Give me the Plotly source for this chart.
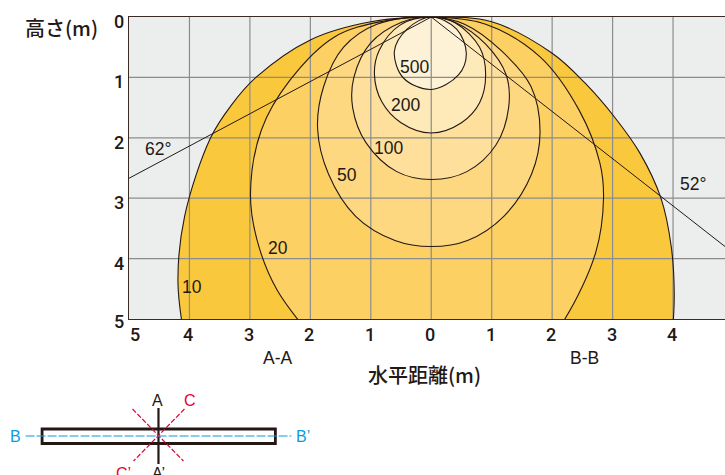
import plotly.graph_objects as go

X_TICKS = [-5, -4, -3, -2, -1, 0, 1, 2, 3, 4, 5]
X_LABELS = ["5", "4", "3", "2", "1", "0", "1", "2", "3", "4", "5"]
Y_TICKS = [0, 1, 2, 3, 4, 5]
LEVELS = ["10", "20", "50", "100", "200", "500"]

C10_X = [-4.05, -4.19, -4.08, -3.65, -3.3, -2.9, -2.0, -1.0, 0, 1, 2, 2.55, 3.05, 3.45, 3.8, 3.97, 4.02, 3.97]
C10_Y = [5.5, 4.4, 3.3, 2, 1.45, 1, 0.38, 0.08, 0, 0.08, 0.6, 1.1, 1.68, 2.25, 3, 3.8, 4.6, 5.5]
C20_X = [-1.8, -2.55, -2.88, -2.99, -2.81, -2.34, -1.6, -0.8, 0, 0.9, 1.8, 2.45, 2.79, 2.85, 2.72, 2.21, 1.8]
C20_Y = [5.5, 4.52, 3.7, 2.92, 1.87, 1.05, 0.33, 0.07, 0, 0.12, 0.66, 1.55, 2.42, 3.0, 3.9, 5, 5.5]
C50_X = [0, -0.9, -1.45, -1.78, -1.88, -1.7, -1.25, -0.6, 0, 0.6, 1.2, 1.66, 1.8, 1.65, 1.15, 0.55, 0]
C50_Y = [0, 0.12, 0.5, 1.15, 1.85, 2.6, 3.3, 3.7, 3.8, 3.7, 3.3, 2.6, 1.9, 1.15, 0.55, 0.12, 0]
C100_X = [0, -0.5, -1, -1.28, -1.3, -1.08, -0.57, 0, 0.59, 1.07, 1.28, 1.24, 0.9, 0.4, 0]
C100_Y = [0, 0.09, 0.43, 1.0, 1.5, 2.08, 2.56, 2.69, 2.56, 2.12, 1.5, 0.96, 0.45, 0.09, 0]
C200_X = [0, -0.51, -0.86, -0.94, -0.82, -0.5, 0, 0.5, 0.8, 0.9, 0.8, 0.4, 0]
C200_Y = [0, 0.13, 0.55, 0.95, 1.4, 1.75, 1.92, 1.75, 1.42, 0.95, 0.5, 0.1, 0]
C500_X = [0, -0.4, -0.61, -0.46, 0, 0.45, 0.58, 0.42, 0]
C500_Y = [0, 0.2, 0.57, 1.01, 1.2, 0.96, 0.6, 0.2, 0]
CONTOURS = [(C10_X, C10_Y), (C20_X, C20_Y), (C50_X, C50_Y), (C100_X, C100_Y), (C200_X, C200_Y), (C500_X, C500_Y)]
FILLS = ["#FAC83C", "#FDD063", "#FDD880", "#FEE09C", "#FEE9B8", "#FEF2D6"]

BEAM_X = [-5, 0, 5]
BEAM_Y = [2.67, 0, 3.91]

LEVEL_POS_X = [-3.95, -2.54, -1.39, -0.71, -0.43, -0.27]
LEVEL_POS_Y = [4.47, 3.83, 2.61, 2.17, 1.45, 0.83]

INK = "#231815"
W, H = 725, 475
L, T, B = 128.5, 17, 319
X_MAX = (W - 431) / 60.5
CN = "Noto Sans CJK JP"
TXT = "Liberation Sans"
TICKF = dict(family="Roboto", size=18, color=INK, weight=500)


def px(x):
    return (x - L) / (W - L)


def py(y):
    return (B - y) / (B - T)


fig = go.Figure()
for (cx, cy), col in zip(CONTOURS, FILLS):
    fig.add_trace(go.Scatter(x=cx, y=cy, mode="lines", fill="toself", fillcolor=col,
                             line=dict(width=0, shape="spline", smoothing=1.0, color=col, simplify=False),
                             hoverinfo="skip", showlegend=False))

gx, gy = [], []
for v in X_TICKS[1:-1]:
    gx += [v, v, None]
    gy += [0, 5, None]
for v in Y_TICKS[1:-1]:
    gx += [-5, 5, None]
    gy += [v, v, None]
fig.add_trace(go.Scatter(x=gx, y=gy, mode="lines", line=dict(color="#8C8C8C", width=1.2),
                         hoverinfo="skip", showlegend=False))

for cx, cy in CONTOURS:
    fig.add_trace(go.Scatter(x=cx, y=cy, mode="lines",
                             line=dict(width=1.1, shape="spline", smoothing=1.0, color=INK, simplify=False),
                             hoverinfo="skip", showlegend=False))
fig.add_trace(go.Scatter(x=BEAM_X, y=BEAM_Y, mode="lines", line=dict(color=INK, width=1),
                         hoverinfo="skip", showlegend=False))

ann = []
for lv, x, y in zip(LEVELS, LEVEL_POS_X, LEVEL_POS_Y):
    ann.append(dict(x=x, y=y, xref="x", yref="y", text=lv, showarrow=False,
                    font=dict(family=TXT, size=17.5, color=INK)))
ann.append(dict(x=-4.52, y=2.18, xref="x", yref="y", text="62°", showarrow=False,
                font=dict(family=TXT, size=17.5, color=INK)))
ann.append(dict(x=4.33, y=2.77, xref="x", yref="y", text="52°", showarrow=False,
                font=dict(family=TXT, size=17.5, color=INK)))

for v, lab in zip(X_TICKS[:-1], X_LABELS[:-1]):
    ann.append(dict(x=v, y=5, xref="x", yref="y", text=lab, showarrow=False, yanchor="middle",
                    xanchor="center", yshift=-15, xshift=(5.5 if v == -5 else -1), font=TICKF))
ann.append(dict(x=px(722), y=py(334), xref="paper", yref="paper", text=X_LABELS[-1], showarrow=False,
                xanchor="left", yanchor="middle", font=TICKF))
for v in Y_TICKS:
    ann.append(dict(x=-5, y=v, xref="x", yref="y", text=str(v), showarrow=False, xanchor="center",
                    yanchor="middle", xshift=-10, yshift=(-2 if v == 5 else -4.5), font=TICKF))


def ptext(x, y, t, fam=TXT, size=15, col=INK, weight=None):
    f = dict(family=fam, size=size, color=col)
    if weight:
        f["weight"] = weight
    ann.append(dict(x=px(x), y=py(y), xref="paper", yref="paper", text=t, showarrow=False,
                    xanchor="center", yanchor="middle", font=f))


ptext(60.5, 28, "高さ(m)", CN, 20, INK, 500)
ptext(424.5, 374, "水平距離(m)", CN, 20, INK, 500)
ptext(278, 358, "A-A", TXT, 17.5)
ptext(584, 358, "B-B", TXT, 17.5)
BLUE, RED = "#0E9BDC", "#E60033"
ptext(157.5, 400, "A", TXT, 16)
ptext(190, 400, "C", TXT, 16, RED)
ptext(15, 436, "B", TXT, 16, BLUE)
ptext(303, 436, "B’", TXT, 16, BLUE)
ptext(123, 473, "C’", TXT, 16, RED)
ptext(158, 473, "A’", TXT, 16)


def seg(x0, y0, x1, y1, col, w, dash="solid"):
    return dict(type="line", xref="paper", yref="paper", x0=px(x0), y0=py(y0), x1=px(x1), y1=py(y1),
                line=dict(color=col, width=w, dash=dash))


shapes = [
    dict(type="rect", xref="paper", yref="paper", x0=px(41.5), y0=py(429), x1=px(275), y1=py(443.5),
         line=dict(color=INK, width=2.8), fillcolor="white"),
    seg(158, 408, 158, 464, INK, 2.2),
    seg(132, 409, 183, 461, RED, 1.2, "5px,2px"),
    seg(184, 409, 133, 461, RED, 1.2, "5px,2px"),
    seg(25, 436, 291, 436, BLUE, 1.2, "9px,2px"),
]

fig.update_layout(
    width=W, height=H,
    margin=dict(l=L, r=0, t=T, b=H - B, pad=0),
    paper_bgcolor="white", plot_bgcolor="#ECEEEE", showlegend=False,
    annotations=ann, shapes=shapes,
    xaxis=dict(range=[-5, X_MAX], tickvals=X_TICKS, showticklabels=False, showgrid=False, zeroline=False,
               showline=True, mirror=True, linecolor="#3A2A25", linewidth=1.3, ticks=""),
    yaxis=dict(range=[5, 0], tickvals=Y_TICKS, showticklabels=False, showgrid=False, zeroline=False,
               showline=True, linecolor="#3A2A25", linewidth=1.3, ticks=""),
)
fig.write_html("out.html", config=dict(displayModeBar=False),
               post_script="document.body.style.margin='0';document.documentElement.style.overflow='hidden';")
